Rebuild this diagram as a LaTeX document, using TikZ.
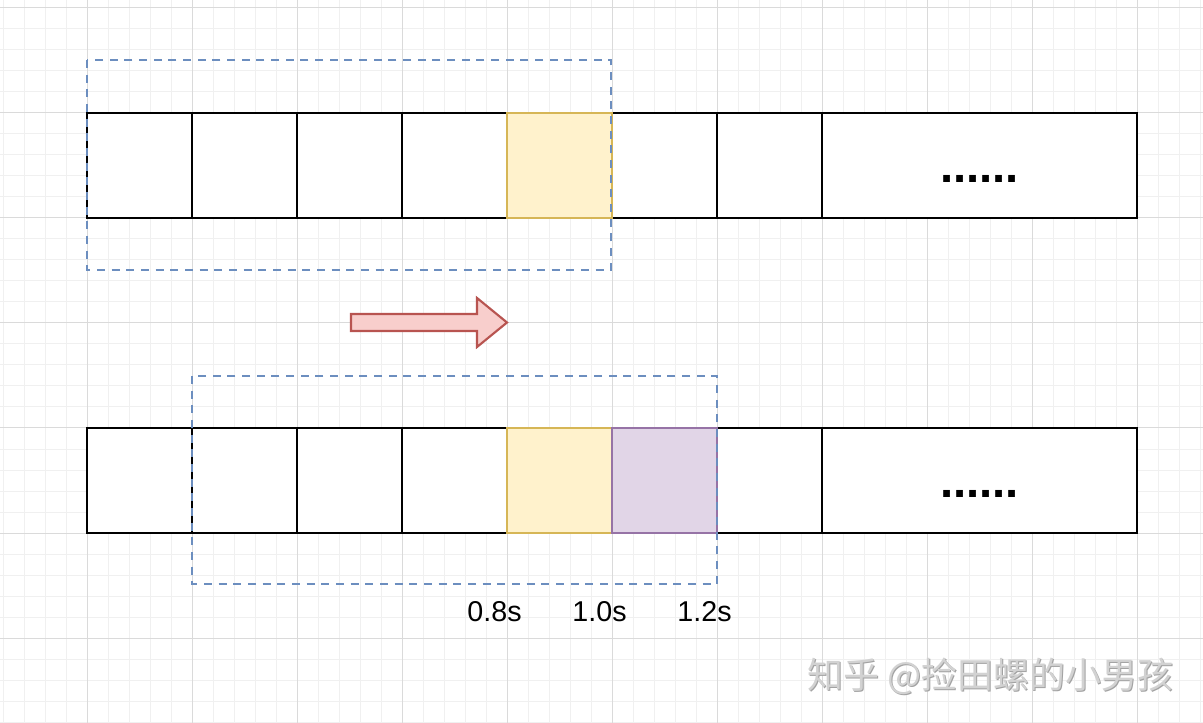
\documentclass[tikz,border=0pt]{standalone}
\usepackage{fontspec}
\setmainfont{Liberation Sans}
\newfontfamily\cjk{Noto Sans CJK SC}
\definecolor{gridminor}{HTML}{F0F0F0}
\definecolor{gridmajor}{HTML}{DADADA}
\definecolor{ylwfill}{HTML}{FFF2CC}
\definecolor{ylwline}{HTML}{D6B656}
\definecolor{prpfill}{HTML}{E1D5E7}
\definecolor{prpline}{HTML}{9673A6}
\definecolor{redfill}{HTML}{F8CECC}
\definecolor{redline}{HTML}{B85450}
\definecolor{bluedash}{HTML}{6C8EBF}
\definecolor{wmfront}{HTML}{D2D2D2}
\definecolor{wmback}{HTML}{A2A2A2}
\begin{document}
\begin{tikzpicture}[x=0.75pt,y=-0.75pt,
  minorgrid/.style={draw=gridminor,line width=0.75pt},
  majorgrid/.style={draw=gridmajor,line width=0.75pt},
  cell/.style={draw=black,fill=white,line width=1.9pt,minimum width=78.75pt,minimum height=78.75pt,inner sep=0pt,outer sep=0pt},
  widecell/.style={cell,minimum width=236.25pt},
  ylwcell/.style={cell,draw=ylwline,fill=ylwfill},
  prpcell/.style={cell,draw=prpline,fill=prpfill},
  window/.style={draw=bluedash,line width=1.8pt,dash pattern=on 6pt off 5pt},
  shiftarrow/.style={draw=redline,fill=redfill,line width=1.6pt,line join=miter},
  dots/.style={font=\bfseries\fontsize{35.5}{40}\selectfont,inner sep=0pt,anchor=base},
  timelabel/.style={font=\fontsize{21.5}{25}\selectfont,inner sep=0pt,text=black},
  wm/.style={font=\cjk\fontsize{27}{31}\selectfont,inner sep=0pt}]
\useasboundingbox (0,0) rectangle (1203,723);
\fill[white] (0,0) rectangle (1203,723);
% grid
\foreach \x in {3,24,...,1200} \draw[minorgrid] (\x,0) -- (\x,723);
\foreach \y in {8,29,...,722} \draw[minorgrid] (0,\y) -- (1203,\y);
\foreach \x in {87,192,...,1137} \draw[majorgrid] (\x,0) -- (\x,723);
\foreach \y in {8,113,...,638} \draw[majorgrid] (0,\y) -- (1203,\y);
% top row
\node[cell] (t1) at (139.5,165.5) {};
\node[cell] (t2) at (244.5,165.5) {};
\node[cell] (t3) at (349.5,165.5) {};
\node[cell] (t4) at (454.5,165.5) {};
\node[cell] (t6) at (664.5,165.5) {};
\node[cell] (t7) at (769.5,165.5) {};
\node[widecell] (t8) at (979.5,165.5) {};
\node[ylwcell] (t5) at (559.5,165.5) {};
\node[dots] (td) at (979.5,182.5) {......};
% bottom row
\node[cell] (b1) at (139.5,480.5) {};
\node[cell] (b2) at (244.5,480.5) {};
\node[cell] (b3) at (349.5,480.5) {};
\node[cell] (b4) at (454.5,480.5) {};
\node[cell] (b7) at (769.5,480.5) {};
\node[widecell] (b8) at (979.5,480.5) {};
\node[ylwcell] (b5) at (559.5,480.5) {};
\node[prpcell] (b6) at (664.5,480.5) {};
\node[dots] (bd) at (979.5,497.5) {......};
% sliding windows
\draw[window] (87,60) rectangle (611,270);
\draw[window] (192,376) rectangle (717,584);
% arrow
\draw[shiftarrow] (351,314) -- (477,314) -- (477,298) -- (507,322.5) -- (477,347) -- (477,331) -- (351,331) -- cycle;
% time labels
\node[timelabel] (l1) at (494.5,612) {0.8s};
\node[timelabel] (l2) at (599.5,612) {1.0s};
\node[timelabel] (l3) at (704.5,612) {1.2s};
% watermark
\node[wm,text=wmback] (wms) at (991.5,677) {知乎 @捡田螺的小男孩};
\node[wm,text=wmfront] (wmt) at (990.5,676) {知乎 @捡田螺的小男孩};
\end{tikzpicture}
\end{document}
